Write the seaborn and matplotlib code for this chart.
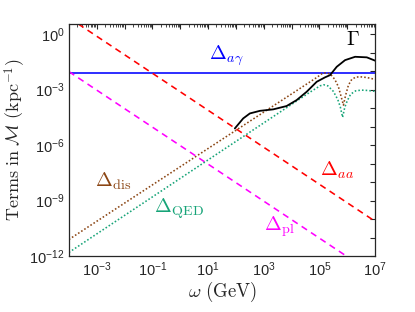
import numpy as np
import pandas as pd
import matplotlib
matplotlib.use("Agg")
import matplotlib.pyplot as plt
import matplotlib.ticker as mticker
import seaborn as sns

# ── Data (log10 values) ──────────────────────────────────────────────────────
# straight power laws: endpoints only
logw_line = [-4.0, 7.0]
log_a_gamma = [-2.12, -2.12]
log_aa = [0.88, -10.12]
log_pl = [-2.03, -13.03]

# Delta_dis (brown dotted)
logw_dis = [-4.0, 4.9, 5.1, 5.25, 5.4, 5.55, 5.68, 5.78, 5.86, 5.94, 6.04,
            6.16, 6.3, 6.46, 6.7, 7.0]
log_dis = [-11.1, -2.35, -2.13, -2.09, -2.18, -2.45, -2.85, -3.39, -3.84,
           -3.3, -2.76, -2.45, -2.33, -2.31, -2.35, -2.45]

# Delta_QED (teal dotted)
logw_qed = [-4.0, 4.66, 5.02, 5.15, 5.3, 5.5, 5.66, 5.75, 5.83, 5.91, 6.0,
            6.12, 6.3, 6.5, 6.75, 7.0]
log_qed = [-11.8, -3.14, -2.8, -2.74, -2.8, -3.1, -3.55, -3.95, -4.5, -3.95,
           -3.6, -3.25, -3.07, -3.03, -3.05, -3.1]

# Gamma (black solid)
logw_gam = [1.96, 2.26, 2.5, 2.86, 3.34, 3.82, 4.18, 4.54, 4.9, 5.2, 5.38,
            5.62, 5.92, 6.28, 6.7, 7.0]
log_gam = [-5.10, -4.56, -4.29, -4.15, -4.07, -3.89, -3.57, -3.12, -2.58,
           -2.34, -2.22, -1.77, -1.41, -1.23, -1.26, -1.44]

xticks_labeled = [-3, -1, 1, 3, 5, 7]
yticks_labeled = [0, -3, -6, -9, -12]

# ── Style ─────────────────────────────────────────────────────────────────────
sns.set_theme(style="white")
plt.rcParams.update({
    "font.family": ["Liberation Sans", "DejaVu Sans"],
    "mathtext.fontset": "cm",
    "axes.edgecolor": "#262626",
    "axes.linewidth": 0.9,
    "xtick.direction": "in",
    "ytick.direction": "in",
    "xtick.top": True,
    "ytick.right": True,
    "xtick.color": "#262626",
    "ytick.color": "#262626",
})

def to_df(lx, ly):
    return pd.DataFrame({"w": 10.0 ** np.array(lx), "v": 10.0 ** np.array(ly)})

fig = plt.figure(figsize=(4.15, 3.12), dpi=100)
ax = fig.add_axes([0.166, 0.179, 0.738, 0.744])

lw = 1.15
sns.lineplot(data=to_df(logw_line, log_a_gamma), x="w", y="v", ax=ax,
             color="#0000ff", lw=lw)
sns.lineplot(data=to_df(logw_line, log_aa), x="w", y="v", ax=ax,
             color="#ff0000", lw=lw, linestyle=(0, (4, 3)))
sns.lineplot(data=to_df(logw_line, log_pl), x="w", y="v", ax=ax,
             color="#ff00ff", lw=lw, linestyle=(0, (4, 3)))
sns.lineplot(data=to_df(logw_dis, log_dis), x="w", y="v", ax=ax,
             color="#8b4513", lw=lw, linestyle=(0, (1, 1.3)))
sns.lineplot(data=to_df(logw_qed, log_qed), x="w", y="v", ax=ax,
             color="#17a478", lw=lw, linestyle=(0, (1, 1.3)))
sns.lineplot(data=to_df(logw_gam, log_gam), x="w", y="v", ax=ax,
             color="black", lw=1.3)

ax.set_xscale("log")
ax.set_yscale("log")
ax.set_xlim(1e-4, 1e7)
ax.set_ylim(1e-12, 10 ** 0.54)

# ticks
ax.xaxis.set_major_locator(mticker.FixedLocator([10.0 ** k for k in range(-4, 8)]))
ax.xaxis.set_minor_locator(mticker.LogLocator(base=10, subs=np.arange(2, 10), numticks=50))
ax.yaxis.set_major_locator(mticker.FixedLocator([10.0 ** k for k in range(-12, 1)]))
ax.yaxis.set_minor_locator(mticker.NullLocator())

def fmt_x(v, pos):
    k = int(round(np.log10(v)))
    return r"$\mathdefault{10^{%d}}$" % k if k in xticks_labeled else ""

def fmt_y(v, pos):
    k = int(round(np.log10(v)))
    return r"$\mathdefault{10^{%d}}$" % k if k in yticks_labeled else ""

ax.xaxis.set_major_formatter(mticker.FuncFormatter(fmt_x))
ax.yaxis.set_major_formatter(mticker.FuncFormatter(fmt_y))
ax.xaxis.set_minor_formatter(mticker.NullFormatter())
ax.tick_params(which="major", length=3.5, width=0.8, labelsize=10.5, pad=3)
ax.tick_params(which="minor", length=2, width=0.6)

ax.set_xlabel(r"$\omega\ (\mathrm{GeV})$", fontsize=13.5, labelpad=1)
ax.set_ylabel(r"$\mathrm{Terms\ in\ }\mathcal{M}\ (\mathrm{kpc}^{-1})$", fontsize=13, labelpad=1)

# annotations
tk = dict(transform=ax.transAxes, ha="center", va="center", fontsize=14.5)
ax.text(0.927, 0.932, r"$\Gamma$", color="black", **tk)
ax.text(0.513, 0.862, r"$\Delta_{a\gamma}$", color="#0000ff", **tk)
ax.text(0.876, 0.371, r"$\Delta_{aa}$", color="#ff0000", **tk)
ax.text(0.688, 0.129, r"$\Delta_{\mathrm{pl}}$", color="#ff00ff", **tk)
ax.text(0.144, 0.323, r"$\Delta_{\mathrm{dis}}$", color="#8b4513", **tk)
ax.text(0.359, 0.203, r"$\Delta_{\mathrm{QED}}$", color="#17a478", **tk)

fig.savefig("out.png", dpi=100)
